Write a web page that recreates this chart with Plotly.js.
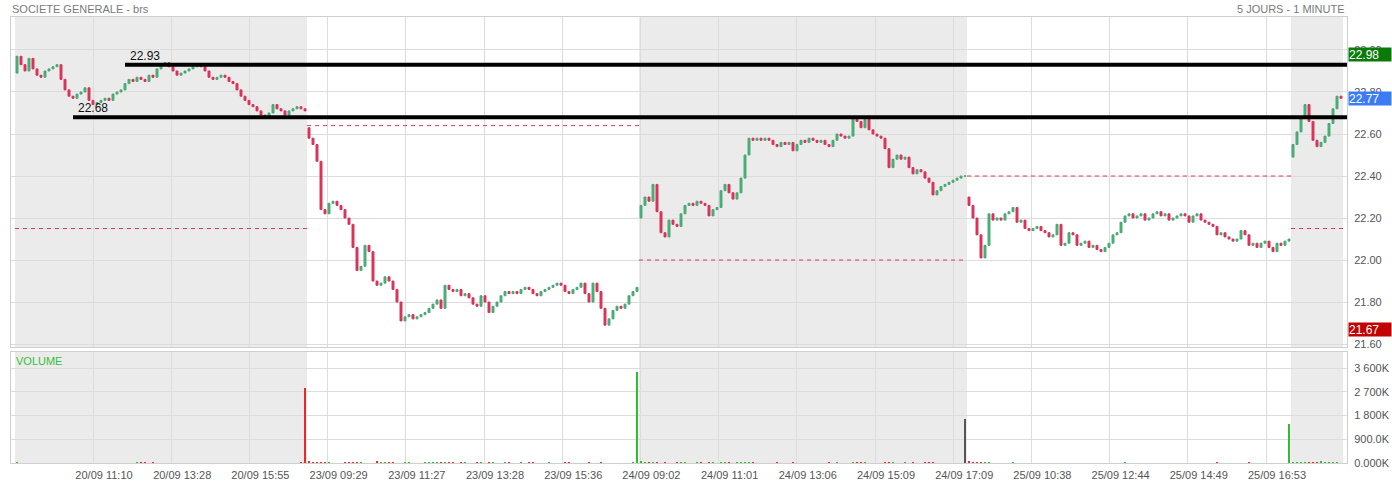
<!DOCTYPE html>
<html><head><meta charset="utf-8">
<script src="https://cdn.plot.ly/plotly-3.0.1.min.js"></script>
<style>body{margin:0;background:#fff}#chart{width:1392px;height:482px}</style>
</head><body><div id="chart"></div>
<script>
// ---- data ----
const dayOpen = [22.89, 22.63, 22.20, 22.30, 22.49];
const day1Close = [22.97,22.93,22.90,22.96,22.91,22.88,22.87,22.90,22.91,22.92,
 22.93,22.86,22.81,22.78,22.77,22.79,22.80,22.82,22.76,22.74,
 22.75,22.76,22.77,22.76,22.79,22.80,22.81,22.84,22.86,22.85,
 22.87,22.86,22.85,22.88,22.87,22.91,22.93,22.94,22.92,22.90,
 22.88,22.89,22.90,22.91,22.92,22.93,22.92,22.90,22.87,22.86,
 22.87,22.88,22.87,22.85,22.84,22.81,22.78,22.76,22.74,22.73,
 22.71,22.69,22.68,22.70,22.74,22.72,22.71,22.69,22.71,22.72,
 22.73,22.72,22.71];
const day2Close = [22.58,22.55,22.47,22.24,22.22,22.27,22.28,22.26,22.24,22.20,
 22.17,22.06,21.95,21.97,22.07,22.04,21.90,21.88,21.89,21.92,
 21.90,21.86,21.80,21.71,21.73,21.74,21.72,21.73,21.74,21.75,
 21.77,21.79,21.81,21.77,21.88,21.86,21.85,21.86,21.83,21.84,
 21.82,21.79,21.78,21.83,21.80,21.75,21.78,21.80,21.83,21.85,
 21.84,21.85,21.84,21.86,21.87,21.86,21.84,21.83,21.85,21.86,
 21.87,21.88,21.89,21.88,21.85,21.84,21.86,21.87,21.89,21.84,
 21.80,21.89,21.85,21.77,21.69,21.72,21.76,21.78,21.77,21.79,
 21.83,21.85,21.87];
const day3Close = [22.26,22.30,22.28,22.36,22.23,22.13,22.11,22.19,22.17,22.16,
 22.22,22.26,22.27,22.26,22.28,22.27,22.26,22.21,22.24,22.25,
 22.33,22.36,22.32,22.29,22.32,22.39,22.50,22.58,22.57,22.58,
 22.57,22.58,22.57,22.55,22.54,22.56,22.55,22.56,22.52,22.55,
 22.57,22.56,22.58,22.57,22.56,22.57,22.55,22.54,22.57,22.60,
 22.59,22.58,22.59,22.68,22.66,22.63,22.67,22.62,22.60,22.59,
 22.58,22.53,22.44,22.48,22.50,22.48,22.49,22.44,22.41,22.43,
 22.42,22.39,22.37,22.31,22.33,22.35,22.36,22.37,22.38,22.39,
 22.40,22.40];
const day4Close = [22.26,22.20,22.12,22.01,22.07,22.22,22.19,22.20,22.19,22.22,
 22.23,22.25,22.18,22.19,22.15,22.14,22.15,22.16,22.14,22.13,
 22.11,22.12,22.17,22.07,22.08,22.13,22.12,22.07,22.08,22.09,
 22.06,22.07,22.05,22.04,22.06,22.08,22.12,22.13,22.18,22.21,
 22.22,22.20,22.21,22.22,22.19,22.20,22.22,22.23,22.21,22.22,
 22.19,22.20,22.21,22.22,22.21,22.18,22.21,22.22,22.19,22.18,
 22.17,22.16,22.12,22.13,22.11,22.10,22.09,22.10,22.14,22.12,
 22.07,22.08,22.06,22.08,22.09,22.06,22.04,22.08,22.07,22.09,
 22.10];
const day5Close = [22.55,22.61,22.68,22.74,22.66,22.57,22.54,22.56,22.59,22.65,22.72,22.78,22.77];

// volumes in thousands
const day1Vol = [30,12,8,10,6,9,5,7,4,6, 8,5,10,6,4,7,5,6,9,4, 6,8,5,7,12,6,9,5,7,10,
 20,35,25,15,30,10,8,6,9,5, 7,6,4,8,5,6,9,7,5,4, 6,8,5,7,6,9,12,6,8,5,
 10,7,6,9,5,8,12,6,10,9, 14,20,2850];
const day2Vol = [80,40,55,30,25,20,18,15,12,30, 25,20,40,35,15,10,12,60,30,25,
 20,35,18,15,40,22,18,12,15,20, 30,25,40,22,35,45,20,18,25,30,
 16,12,35,20,15,25,30,18,12,50, 22,15,18,20,14,25,30,12,10,16,
 20,14,12,18,22,30,15,12,10,14, 25,12,18,22,16,12,14,10,12,15, 18,20,3460];
const day3Vol = [60,30,25,40,20,15,30,18,12,40, 25,20,15,12,30,22,18,25,20,15,
 35,25,20,18,22,40,55,30,20,15, 12,18,10,14,20,12,16,10,22,15,
 12,10,18,14,12,10,16,20,14,22, 15,12,18,45,30,25,20,15,12,18,
 14,25,40,22,18,15,20,16,22,18, 14,20,25,30,16,12,15,10,12,14, 18,1670];
const day4Vol = [70,40,35,50,30,25,15,12,18,10, 14,20,12,10,15,12,8,10,14,12,
 10,8,12,15,10,12,8,10,9,12, 10,8,12,15,10,12,14,18,16,20,
 12,10,8,12,9,10,12,8,10,9, 8,10,12,9,8,10,12,15,10,12,
 14,18,20,15,12,10,14,12,10,16, 20,15,12,10,14,18,12,10,9,14, 1480];
const day5Vol = [50,40,30,35,25,30,45,60,35,30,25,20,15];

const prevCloseLevels = [22.15, 22.64, 22.00, 22.40, 22.15];
const shadedDays = [true, false, true, false, true];
const levelValues = [22.93, 22.68];
const levelLabels = ['22.93', '22.68'];
const levelStartBar = [27, 14];
const tickBars = [19, 38.55, 58.1, 77.65, 97.2, 116.75, 136.3, 155.85, 175.4, 194.95, 214.5, 234.05, 253.6, 273.15, 292.7, 312.25];
const tickLabels = ['20/09 11:10','20/09 13:28','20/09 15:55','23/09 09:29','23/09 11:27','23/09 13:28','23/09 15:36','24/09 09:02','24/09 11:01','24/09 13:06','24/09 15:09','24/09 17:09','25/09 10:38','25/09 12:44','25/09 14:49','25/09 16:53'];
const priceTicks = [21.6, 21.8, 22.0, 22.2, 22.4, 22.6, 22.8, 23.0];
const volumeTicks = [0, 900000, 1800000, 2700000, 3600000];
const volumeTickLabels = ['0.000K','900.0K','1 800K','2 700K','3 600K'];
const tagValues = [22.98, 22.77, 21.67];
const tagColors = ['#0a7a0a', '#3b7cf4', '#c30000'];

// ---- build ----
const dayCloses = [day1Close, day2Close, day3Close, day4Close, day5Close];
const dayVols = [day1Vol, day2Vol, day3Vol, day4Vol, day5Vol];
const X = [], O = [], H = [], L = [], C = [], V = [], VC = [];
const dayStart = [], dayEnd = [];
let idx = 0;
dayCloses.forEach((cl, d) => {
  dayStart.push(idx);
  cl.forEach((c, j) => {
    const o = j === 0 ? dayOpen[d] : cl[j - 1];
    X.push(idx); O.push(o); C.push(c); H.push(Math.max(o, c)); L.push(Math.min(o, c));
    V.push((dayVols[d][j] || 0) * 1000);
    VC.push(c > o ? 'rgb(46,190,46)' : (c < o ? 'rgb(236,40,40)' : '#555555'));
    idx++;
  });
  dayEnd.push(idx - 1);
});
const xRange = [-1.5, 332.5];

const FONT = 'Liberation Sans, Arial, sans-serif';
const shapes = [];
dayStart.forEach((s, d) => {
  if (shadedDays[d]) {
    ['y domain', 'y2 domain'].forEach(yr => shapes.push({type:'rect', layer:'below', xref:'x', yref:yr,
      x0:s - 0.5, x1:dayEnd[d] + 0.5, y0:0, y1:1, fillcolor:'#ebebeb', line:{width:0}}));
  }
  shapes.push({type:'line', xref:'x', yref:'y', x0:s - 0.5, x1:dayEnd[d] + 0.5,
    y0:prevCloseLevels[d], y1:prevCloseLevels[d], line:{color:'#ec3552', width:1, dash:'4px,4px'}});
});
levelValues.forEach((v, k) => shapes.push({type:'line', xref:'x', yref:'y', x0:levelStartBar[k], x1:xRange[1],
  y0:v, y1:v, line:{color:'#000', width:4}}));

const annotations = [
  {xref:'paper', yref:'paper', x:0, y:1, xanchor:'left', yanchor:'middle', yshift:8, xshift:-1, showarrow:false,
   text:'SOCIETE GENERALE - brs', font:{family:FONT, size:11, color:'#7a7a7a'}},
  {xref:'paper', yref:'paper', x:1, y:1, xanchor:'right', yanchor:'middle', yshift:8, showarrow:false,
   text:'5 JOURS - 1 MINUTE', font:{family:FONT, size:11, color:'#7a7a7a'}},
  {xref:'paper', yref:'y2 domain', x:0, y:1, xanchor:'left', yanchor:'top', xshift:3, yshift:-1, showarrow:false,
   text:'VOLUME', font:{family:FONT, size:11, color:'#35c035'}}
];
levelValues.forEach((v, k) => annotations.push({xref:'x', yref:'y', x:levelStartBar[k], y:v, xanchor:'left', yanchor:'bottom',
  xshift:3, yshift:0, showarrow:false, text:levelLabels[k], font:{family:FONT, size:12, color:'#111'}}));
tagValues.forEach((v, k) => annotations.push({xref:'paper', yref:'y', x:1, y:v, xanchor:'left', yanchor:'middle',
  xshift:1, showarrow:false, text:v.toFixed(2), bgcolor:tagColors[k], width:42, height:13, align:'left', borderpad:0,
  font:{family:FONT, size:12, color:'#fff'}}));

const candle = {type:'candlestick', x:X, open:O, high:H, low:L, close:C, xaxis:'x', yaxis:'y',
  increasing:{line:{color:'#4aa876', width:1}, fillcolor:'#46b474'},
  decreasing:{line:{color:'#d8335a', width:1}, fillcolor:'#e03058'},
  whiskerwidth:0, hoverinfo:'skip'};
const vol = {type:'bar', x:X, y:V, xaxis:'x2', yaxis:'y2', width:0.3, marker:{color:VC, line:{width:0}}, hoverinfo:'skip'};

const axisCommon = {showgrid:true, gridcolor:'#dcdcdc', gridwidth:1, zeroline:false, showline:true, linecolor:'#cfcfcf', mirror:true, ticks:''};
const layout = {
  width:1392, height:482, margin:{l:11, r:45, t:17, b:19}, paper_bgcolor:'#fff', plot_bgcolor:'#fff',
  showlegend:false, font:{family:FONT, size:11, color:'#555'},
  xaxis:Object.assign({}, axisCommon, {range:xRange, tickvals:tickBars, ticktext:tickLabels, showticklabels:false,
    rangeslider:{visible:false}, anchor:'y'}),
  yaxis:Object.assign({}, axisCommon, {domain:[0.2601, 1], range:[21.586, 23.157], side:'right', tickvals:priceTicks,
    ticktext:priceTicks.map(v => v.toFixed(2)), ticklabelstandoff:4, anchor:'x'}),
  xaxis2:Object.assign({}, axisCommon, {range:xRange, matches:'x', tickvals:tickBars, ticktext:tickLabels, anchor:'y2',
    ticklabelshift:11, ticklabelstandoff:2, tickfont:{family:FONT, size:11, color:'#555'}}),
  yaxis2:Object.assign({}, axisCommon, {domain:[0, 0.2489], range:[0, 4215000], side:'right', tickvals:volumeTicks,
    ticktext:volumeTickLabels, ticklabelstandoff:4, anchor:'x2'}),
  bargap:0, shapes:shapes, annotations:annotations
};
Plotly.newPlot('chart', [candle, vol], layout, {staticPlot:true, displayModeBar:false});
</script></body></html>
